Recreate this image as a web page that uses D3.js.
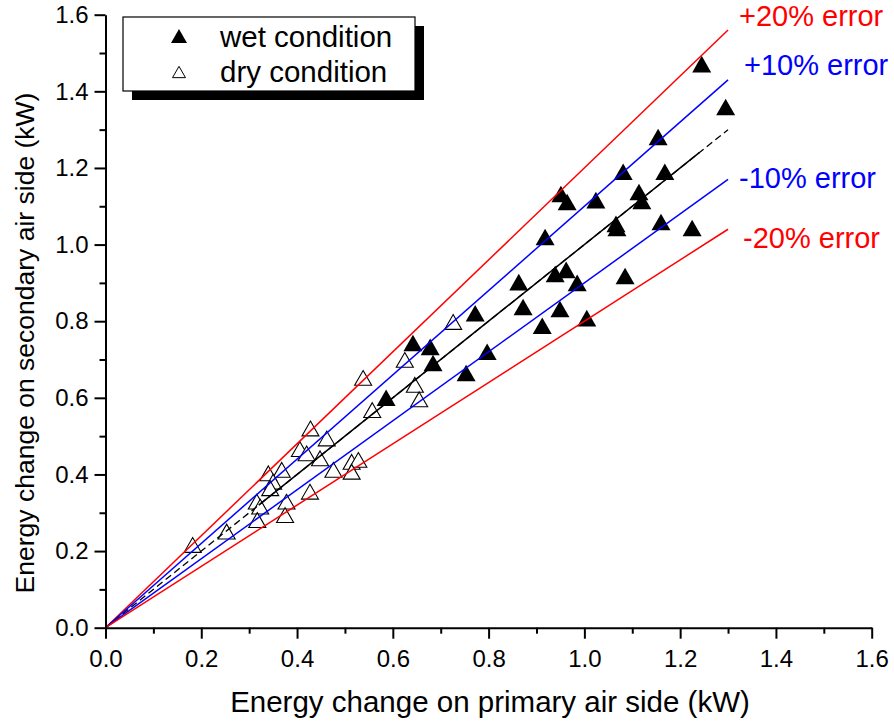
<!DOCTYPE html>
<html><head><meta charset="utf-8">
<script src="https://cdn.jsdelivr.net/npm/d3@7"></script>
<style>
body{margin:0;background:#fff}
text{font-family:"Liberation Sans",Arial,sans-serif}
</style></head>
<body><svg id="c" width="894" height="724"></svg>
<script>
const wetX = [1.245,1.295,1.154,1.081,1.168,0.951,0.964,1.024,1.114,1.120,0.918,1.066,1.068,1.160,1.225,0.863,0.939,0.962,0.985,1.085,0.872,0.949,0.912,1.005,0.772,0.797,0.753,0.642,0.678,0.684,0.586];
const wetY = [1.471,1.359,1.281,1.190,1.190,1.132,1.111,1.116,1.137,1.114,1.020,1.054,1.043,1.059,1.043,0.902,0.923,0.934,0.900,0.918,0.837,0.832,0.788,0.808,0.821,0.720,0.665,0.743,0.733,0.691,0.600];
const dryX = [0.726,0.625,0.646,0.655,0.538,0.557,0.428,0.462,0.406,0.420,0.448,0.340,0.368,0.350,0.344,0.476,0.514,0.528,0.514,0.316,0.323,0.378,0.427,0.317,0.375,0.253,0.182];
const dryY = [0.798,0.699,0.634,0.596,0.652,0.568,0.520,0.494,0.466,0.455,0.442,0.403,0.412,0.381,0.364,0.412,0.433,0.438,0.407,0.329,0.316,0.329,0.355,0.281,0.294,0.251,0.216];
const ratios = [1.2, 1.1, 1.0, 0.9, 0.8];
const ratioColors = ["#ff0000","#0000ff","#000000","#0000ff","#ff0000"];
const lineEnd = 1.3;
const fitSolid = [0.32, 1.24];
const errorLabels = ["+20% error","+10% error","-10% error","-20% error"];
const errorColors = ["#ff0000","#0000ff","#0000ff","#ff0000"];
const majorTicks = [0,0.2,0.4,0.6,0.8,1.0,1.2,1.4,1.6];
const minorTicks = [0.1,0.3,0.5,0.7,0.9,1.1,1.3,1.5];
const legendLabels = ["wet condition","dry condition"];

const svg = d3.select("#c");
const x = d3.scaleLinear([0,1.6],[105.5,871.7]);
const y = d3.scaleLinear([0,1.6],[627.7,14.7]);

// triangle centred on its bounding box
function tri(w){ return {draw(ctx,size){ const h=w*0.87; ctx.moveTo(0,-h/2); ctx.lineTo(w/2,h/2); ctx.lineTo(-w/2,h/2); ctx.closePath(); }}; }
const triBig = d3.symbol().type(tri(19))();
const triOpen = d3.symbol().type(tri(17))();

// markers
const dry = dryX.map((v,i)=>[v,dryY[i]]);
const wet = wetX.map((v,i)=>[v,wetY[i]]);
svg.append("g").selectAll("path").data(dry).join("path")
  .attr("d",triOpen).attr("transform",d=>`translate(${x(d[0])},${y(d[1])})`)
  .attr("fill","#fff").attr("stroke","#000").attr("stroke-width",1.1);
svg.append("g").selectAll("path").data(wet).join("path")
  .attr("d",triBig).attr("transform",d=>`translate(${x(d[0])},${y(d[1])})`)
  .attr("fill","#000");

// error lines
const lg = svg.append("g").attr("fill","none");
ratios.forEach((r,i)=>{
  if(r===1.0){
    lg.append("line").attr("x1",x(0)).attr("y1",y(0)).attr("x2",x(lineEnd)).attr("y2",y(lineEnd*r))
      .attr("stroke","#000").attr("stroke-width",1.3).attr("stroke-dasharray","7,4");
    lg.append("line").attr("x1",x(fitSolid[0])).attr("y1",y(fitSolid[0]*r)).attr("x2",x(fitSolid[1])).attr("y2",y(fitSolid[1]*r))
      .attr("stroke","#000").attr("stroke-width",1.5);
  } else {
    lg.append("line").attr("x1",x(0)).attr("y1",y(0)).attr("x2",x(lineEnd)).attr("y2",y(lineEnd*r))
      .attr("stroke",ratioColors[i]).attr("stroke-width",1.5);
  }
});

// axes
const fmt = d3.format(".1f");
svg.append("g").attr("transform",`translate(0,${y(0)})`)
  .call(d3.axisBottom(x).tickValues(majorTicks).tickSize(11).tickSizeOuter(0).tickPadding(11).tickFormat(fmt));
svg.append("g").attr("transform",`translate(0,${y(0)})`)
  .call(d3.axisBottom(x).tickValues(minorTicks).tickSize(6).tickSizeOuter(0).tickFormat(""))
  .select(".domain").remove();
svg.append("g").attr("transform",`translate(${x(0)},0)`)
  .call(d3.axisLeft(y).tickValues(majorTicks).tickSize(11).tickSizeOuter(0).tickPadding(6).tickFormat(fmt));
svg.append("g").attr("transform",`translate(${x(0)},0)`)
  .call(d3.axisLeft(y).tickValues(minorTicks).tickSize(6).tickSizeOuter(0).tickFormat(""))
  .select(".domain").remove();
svg.selectAll(".domain").attr("stroke-width",2);
svg.selectAll(".tick line").attr("stroke-width",2);
svg.selectAll(".tick text").attr("font-size",24).attr("font-family","Liberation Sans, Arial, sans-serif").attr("fill","#000");

// titles
svg.append("text").attr("x",490).attr("y",712).attr("text-anchor","middle").attr("font-size",29.5)
  .text("Energy change on primary air side (kW)");
svg.append("text").attr("transform","translate(34,343) rotate(-90)").attr("text-anchor","middle").attr("font-size",26.5)
  .text("Energy change on secondary air side (kW)");

// error labels
const labPos = [[739,26],[744,75],[739,188],[743,248]];
errorLabels.forEach((t,i)=>{
  svg.append("text").attr("x",labPos[i][0]).attr("y",labPos[i][1]).attr("font-size",29)
    .attr("fill",errorColors[i]).text(t);
});

// legend
svg.append("rect").attr("x",132).attr("y",26).attr("width",292).attr("height",74).attr("fill","#000");
svg.append("rect").attr("x",123).attr("y",17).attr("width",292).attr("height",74).attr("fill","#fff").attr("stroke","#000").attr("stroke-width",1.2);
svg.append("path").attr("d",d3.symbol().type(tri(16))()).attr("transform","translate(179,36)").attr("fill","#000");
svg.append("path").attr("d",d3.symbol().type(tri(13))()).attr("transform","translate(179,72)").attr("fill","#fff").attr("stroke","#000").attr("stroke-width",1);
legendLabels.forEach((t,i)=>{
  svg.append("text").attr("x",220).attr("y",47+i*35).attr("font-size",29.5).attr("fill","#000").text(t);
});
</script></body></html>
